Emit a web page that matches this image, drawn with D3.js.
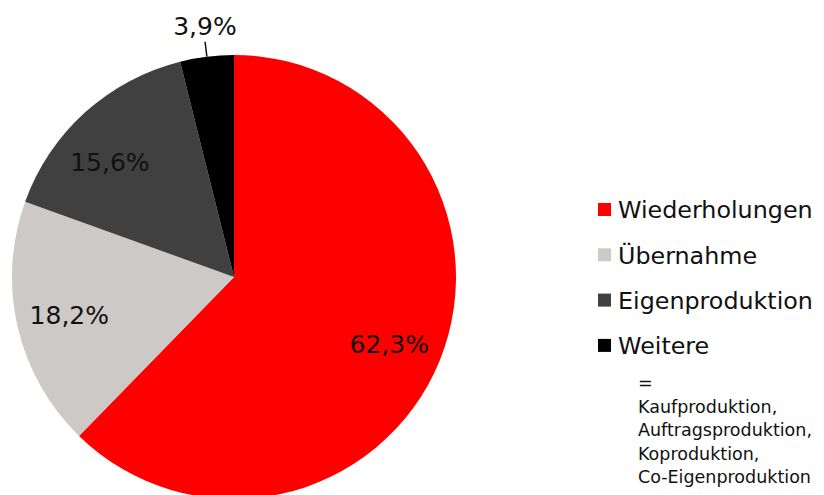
<!DOCTYPE html>
<html>
  <head>
    <meta charset="utf-8">
    <title>pie</title>
    <style>
      body {
        margin: 0;
        background-color: white;
      }
      text {
        font-family: "DejaVu Sans", sans-serif;
      }
    </style>
  </head>
  <body>
    <div id="chart"></div>

    <script src="https://d3js.org/d3.v7.min.js"></script>
    <script>
    var categories = ["Wiederholungen", "Übernahme", "Eigenproduktion", "Weitere"];
    var values = [62.3, 18.2, 15.6, 3.9];
    var labels = ["62,3%", "18,2%", "15,6%", "3,9%"];
    var colors = ["#ff0000", "#cdc9c6", "#404040", "#000000"];
    var note = ["=", "Kaufproduktion,", "Auftragsproduktion,", "Koproduktion,", "Co-Eigenproduktion"];

    var width = 824;
    var height = 495;
    var radius = 222;

    var svg = d3.select("#chart").append("svg")
      .attr("width", width)
      .attr("height", height);

    var g = svg.append("g")
      .attr("transform", "translate(234, 277)");

    var pie = d3.pie().sort(null).value(function(d) { return d; });
    var arcs = pie(values);

    var arc = d3.arc().innerRadius(0).outerRadius(radius);

    g.selectAll("path")
      .data(arcs)
      .enter()
      .append("path")
      .attr("d", arc)
      .attr("fill", function(d, i) { return colors[i]; });

    // excel nudged the 15,6% label a bit round the circle
    var angleNudge = [0.02, 0, -0.09, 0];

    g.selectAll("text.inside")
      .data(arcs.slice(0, 3))
      .enter()
      .append("text")
      .attr("class", "inside")
      .attr("x", function(d, i) {
        var a = (d.startAngle + d.endAngle) / 2 + angleNudge[i];
        return 169 * Math.sin(a);
      })
      .attr("y", function(d, i) {
        var a = (d.startAngle + d.endAngle) / 2 + angleNudge[i];
        return -169 * Math.cos(a);
      })
      .attr("dy", "0.35em")
      .attr("text-anchor", "middle")
      .attr("font-size", 25)
      .attr("fill", "#111")
      .text(function(d, i) { return labels[i]; });

    // small slice label sits outside with a leader
    var last = arcs[3];
    var mid = (last.startAngle + last.endAngle) / 2;
    g.append("line")
      .attr("x1", radius * Math.sin(mid))
      .attr("y1", -radius * Math.cos(mid))
      .attr("x2", (radius + 15) * Math.sin(mid))
      .attr("y2", -(radius + 15) * Math.cos(mid))
      .attr("stroke", "#111")
      .attr("stroke-width", 1.5);
    g.append("text")
      .attr("x", (radius + 16) * Math.sin(mid))
      .attr("y", -(radius + 20))
      .attr("text-anchor", "middle")
      .attr("font-size", 25)
      .attr("fill", "#111")
      .text(labels[3]);

    var legend = svg.append("g")
      .attr("transform", "translate(598, 210)");

    var row = legend.selectAll("g")
      .data(categories)
      .enter()
      .append("g")
      .attr("transform", function(d, i) { return "translate(0," + (i * 45.3) + ")"; });

    row.append("rect")
      .attr("x", 0)
      .attr("y", -7)
      .attr("width", 13)
      .attr("height", 13)
      .attr("fill", function(d, i) { return colors[i]; });

    row.append("text")
      .attr("x", 20)
      .attr("y", 0)
      .attr("dy", "0.35em")
      .attr("font-size", 23.8)
      .attr("fill", "#111")
      .text(function(d) { return d; });

    svg.append("text")
      .attr("x", 638)
      .attr("y", 389)
      .attr("font-size", 17.5)
      .attr("fill", "#111")
      .selectAll("tspan")
      .data(note)
      .enter()
      .append("tspan")
      .attr("x", 638)
      .attr("dy", function(d, i) { return i == 0 ? 0 : 23.5; })
      .text(function(d) { return d; });
    </script>
  </body>
</html>
